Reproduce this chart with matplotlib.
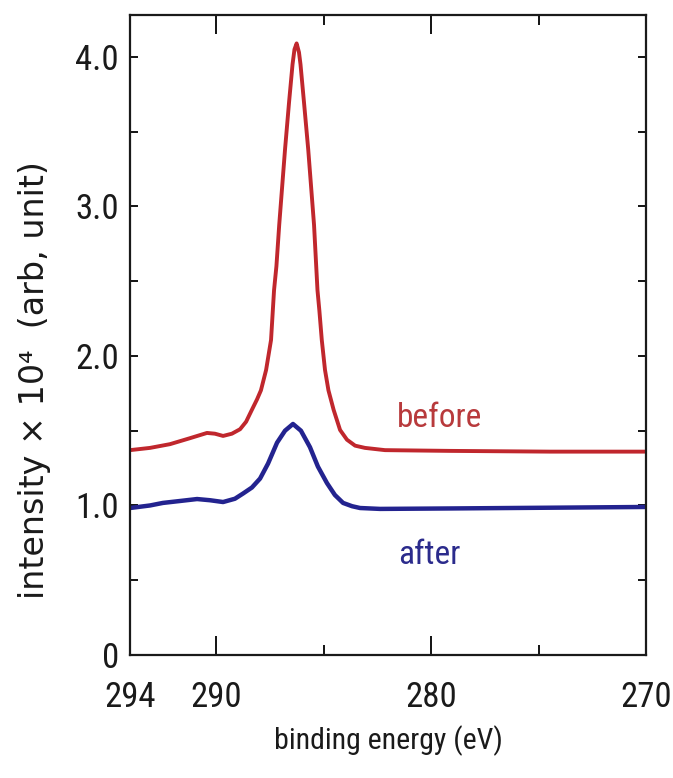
import matplotlib
matplotlib.use("Agg")
import matplotlib.pyplot as plt
from matplotlib.ticker import MultipleLocator, FixedLocator
from matplotlib import font_manager as fm

# ---- data (binding energy in eV, intensity x 1e4) ----
before_x = [294.00, 293.07, 292.14, 291.21, 290.42, 290.05, 289.67, 289.26, 288.88,
            288.60, 288.33, 288.09, 287.91, 287.67, 287.44, 287.30, 287.19, 287.06,
            286.79, 286.60, 286.44, 286.35, 286.25, 286.14, 286.07, 285.91, 285.71,
            285.44, 285.28, 285.19, 285.08, 284.93, 284.77, 284.53, 284.23, 283.91,
            283.53, 283.07, 282.14, 279.12, 274.47, 270.00]
before_y = [1.37, 1.385, 1.41, 1.45, 1.485, 1.48, 1.465, 1.48, 1.51,
            1.56, 1.64, 1.71, 1.77, 1.906, 2.107, 2.44, 2.60, 2.876,
            3.38, 3.70, 3.95, 4.05, 4.09, 4.03, 3.95, 3.70, 3.38,
            2.876, 2.44, 2.30, 2.107, 1.906, 1.77, 1.64, 1.505, 1.44,
            1.40, 1.385, 1.37, 1.365, 1.36, 1.36]

after_x = [294.00, 293.07, 292.47, 291.67, 290.88, 290.28, 289.67, 289.12, 288.74,
           288.33, 287.95, 287.58, 287.16, 286.79, 286.42, 286.05, 285.63, 285.26,
           284.84, 284.47, 284.09, 283.67, 283.30, 282.37, 279.12, 274.47, 270.00]
after_y = [0.983, 1.00, 1.017, 1.03, 1.043, 1.035, 1.023, 1.045, 1.08,
           1.12, 1.18, 1.28, 1.42, 1.50, 1.545, 1.50, 1.39, 1.26,
           1.15, 1.07, 1.017, 0.995, 0.983, 0.977, 0.98, 0.985, 0.99]

x_ticks = [294, 290, 280, 270]
x_tick_labels = ["294", "290", "280", "270"]
x_minor = [285, 275]
y_ticks = [0, 1, 2, 3, 4]
y_tick_labels = ["0", "1.0", "2.0", "3.0", "4.0"]

RED = "#c0272d"
BLUE = "#23238f"

# pick a narrow font if one is installed
available = {f.name for f in fm.fontManager.ttflist}
narrow_names = [n for n in ["Liberation Sans Narrow", "Roboto Condensed",
                            "Open Sans Condensed", "Noto Sans Condensed",
                            "DejaVu Sans Condensed"] if n in available]
if narrow_names:
    NARROW = [narrow_names[0], "DejaVu Sans"]
    SCALE = 1.0
else:
    NARROW = ["Lato", "DejaVu Sans"] if "Lato" in available else ["DejaVu Sans"]
    SCALE = 0.92

fig = plt.figure(figsize=(6.73, 7.78), dpi=100)
ax = fig.add_axes([130 / 673, 1 - 655 / 778, 516 / 673, 640 / 778])

ax.plot(before_x, before_y, color=RED, lw=2.8, solid_joinstyle="round")
ax.plot(after_x, after_y, color=BLUE, lw=3.2, solid_joinstyle="round")

ax.set_xlim(294, 270)
ax.set_ylim(0, 4.28)

ax.xaxis.set_major_locator(FixedLocator(x_ticks))
ax.set_xticklabels(x_tick_labels)
ax.xaxis.set_minor_locator(FixedLocator(x_minor))
ax.yaxis.set_major_locator(FixedLocator(y_ticks))
ax.set_yticklabels(y_tick_labels)
ax.yaxis.set_minor_locator(MultipleLocator(0.5))

ax.tick_params(axis="x", which="major", direction="in", length=14, width=1.3,
               top=True, bottom=True, pad=19)
ax.tick_params(axis="x", which="minor", direction="in", length=7, width=1.3,
               top=True, bottom=True)
ax.tick_params(axis="y", which="both", direction="in", length=6, width=1.3,
               left=True, right=True, pad=8)

for lab in ax.get_xticklabels() + ax.get_yticklabels():
    lab.set_family(NARROW)
    lab.set_fontsize(25 * SCALE)
    lab.set_color("#1a1a1a")

for sp in ax.spines.values():
    sp.set_linewidth(1.6)
    sp.set_color("#1a1a1a")

ax.text(279.6, 1.585, "before", color="#b83a3c", fontsize=24 * SCALE, family=NARROW,
        ha="center", va="center")
ax.text(280.1, 0.67, "after", color="#2b2b8c", fontsize=24 * SCALE, family=NARROW,
        ha="center", va="center")

fig.text(388 / 673, 1 - 741 / 778, "binding energy (eV)", fontsize=21.5 * SCALE,
         family=NARROW, ha="center", va="center", color="#1a1a1a")
fig.text(35 / 673, 1 - 380 / 778, "intensity \u00d7 10\u2074  (arb, unit)", fontsize=24,
         family=["DejaVu Sans"], rotation=90, ha="center", va="center", color="#1a1a1a")

fig.savefig("out.png", dpi=100)
